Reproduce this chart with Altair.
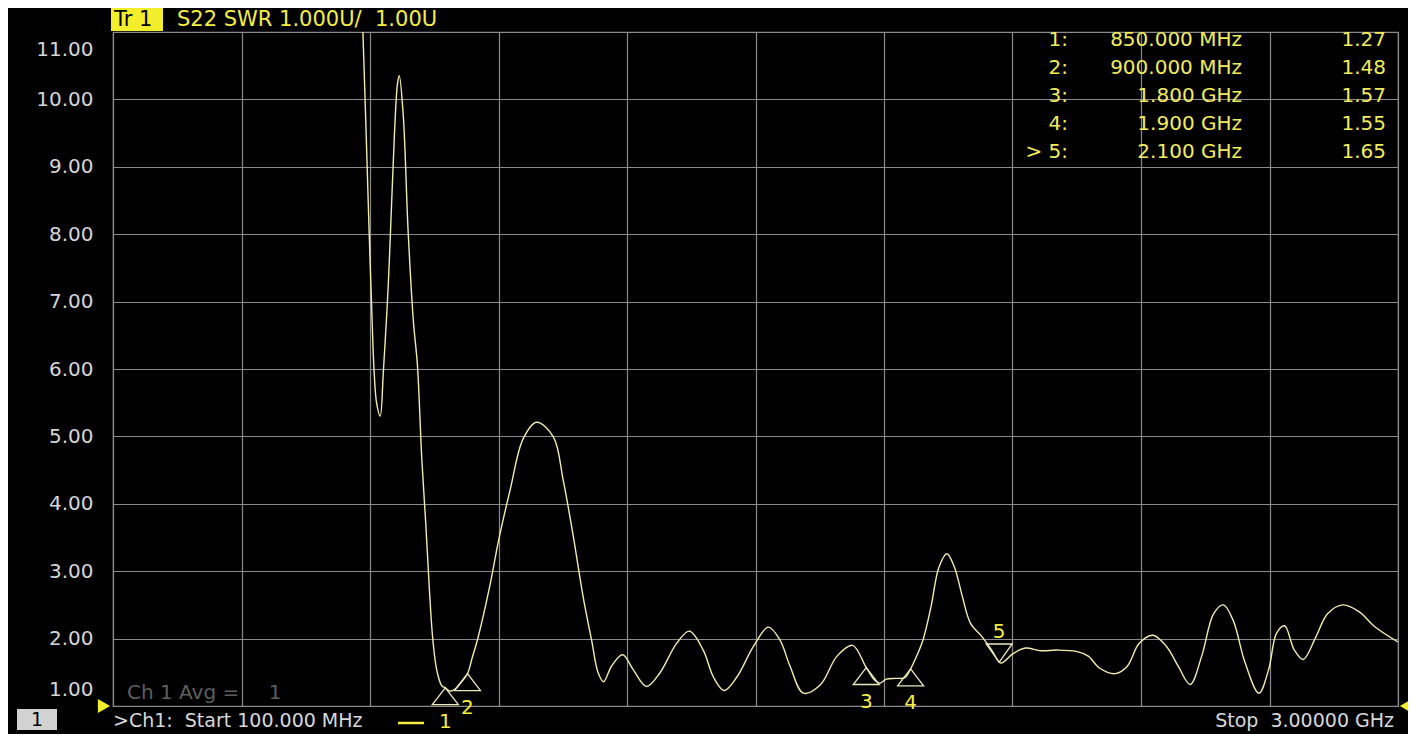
import altair as alt
import pandas as pd

# ---- trace data (frequency in GHz, SWR) ----
freq_ghz = [0.657, 0.664, 0.673, 0.678, 0.684, 0.689, 0.695, 0.703, 0.710, 0.721, 0.729, 0.735,
            0.742, 0.746, 0.755, 0.766, 0.778, 0.787, 0.797, 0.806, 0.814, 0.822, 0.831, 0.842,
            0.850, 0.861, 0.872, 0.883, 0.900, 0.910, 0.924, 0.951, 0.970, 0.996, 1.026, 1.056,
            1.094, 1.116, 1.139, 1.161, 1.180, 1.195, 1.207, 1.225, 1.250, 1.274, 1.304, 1.334,
            1.372, 1.401, 1.432, 1.455, 1.479, 1.508, 1.545, 1.579, 1.605, 1.628, 1.658, 1.696,
            1.734, 1.769, 1.800, 1.818, 1.831, 1.845, 1.867, 1.887, 1.900, 1.911, 1.928, 1.946,
            1.964, 1.982, 1.999, 2.017, 2.035, 2.061, 2.083, 2.100, 2.106, 2.132, 2.159, 2.194,
            2.230, 2.274, 2.301, 2.327, 2.362, 2.389, 2.416, 2.447, 2.478, 2.504, 2.531, 2.557,
            2.584, 2.606, 2.628, 2.655, 2.686, 2.708, 2.726, 2.744, 2.766, 2.786, 2.815, 2.841,
            2.876, 2.912, 2.947, 3.000]
swr = [12.3, 11.0, 9.13, 8.05, 6.87, 6.0, 5.49, 5.30, 5.94, 7.22, 8.5, 9.46,
       10.23, 10.35, 9.77, 8.05, 6.7, 6.06, 4.65, 3.69, 2.73, 1.97, 1.52, 1.30,
       1.27, 1.22, 1.25, 1.33, 1.48, 1.70, 2.02, 2.80, 3.45, 4.20, 4.97, 5.21,
       4.99, 4.35, 3.51, 2.62, 1.98, 1.49, 1.36, 1.59, 1.76, 1.54, 1.29, 1.49,
       1.93, 2.11, 1.83, 1.43, 1.23, 1.43, 1.88, 2.17, 1.98, 1.59, 1.19, 1.31,
       1.74, 1.90, 1.57, 1.39, 1.34, 1.40, 1.41, 1.42, 1.55, 1.70, 1.98, 2.47,
       3.06, 3.26, 3.06, 2.62, 2.23, 2.03, 1.83, 1.65, 1.64, 1.78, 1.86, 1.82,
       1.83, 1.81, 1.74, 1.56, 1.48, 1.59, 1.93, 2.05, 1.88, 1.59, 1.32, 1.74,
       2.37, 2.50, 2.27, 1.64, 1.19, 1.54, 2.08, 2.19, 1.83, 1.69, 2.03, 2.37,
       2.50, 2.40, 2.18, 1.95]

# ---- markers ----
marker_ids = ["1", "2", "3", "4", "5"]
marker_row_labels = ["1:", "2:", "3:", "4:", "> 5:"]
marker_freq = [0.85, 0.90, 1.80, 1.90, 2.10]
marker_swr = [1.27, 1.48, 1.57, 1.55, 1.65]
marker_freq_text = ["850.000 MHz", "900.000 MHz", "1.800 GHz", "1.900 GHz", "2.100 GHz"]
marker_val_text = ["1.27", "1.48", "1.57", "1.55", "1.65"]

# ---- axes ----
x_grid = [0.1, 0.39, 0.68, 0.97, 1.26, 1.55, 1.84, 2.13, 2.42, 2.71, 3.0]
y_ticks = [1, 2, 3, 4, 5, 6, 7, 8, 9, 10, 11]

header_text = "S22 SWR 1.000U/\u00a0\u00a01.00U"
footer_start = ">Ch1:\u00a0\u00a0Start\u00a0100.000 MHz"
footer_stop = "Stop\u00a0\u00a03.00000 GHz"
avg_text = "Ch 1 Avg ="
avg_value = "1"

FONT = "DejaVu Sans"
GRID = "#8a8a8a"
TRACE = "#f1ebb0"
YELLOW = "#f4ee45"
TABLE = "#f2ec5c"

trace_df = pd.DataFrame({"f": freq_ghz, "swr": swr})
mk_df = pd.DataFrame({"f": marker_freq, "swr": marker_swr, "id": marker_ids})
mk_up = mk_df.iloc[:4]
mk_dn = mk_df.iloc[4:]
one = pd.DataFrame({"a": [0]})

xs = alt.Scale(domain=[0.1, 3.0], nice=False, zero=False)
ys = alt.Scale(domain=[1, 11], nice=False, zero=False)

x_enc = alt.X("f:Q", scale=xs,
              axis=alt.Axis(values=x_grid, grid=True, labels=False, ticks=False,
                            domain=False, title=None, gridColor=GRID, gridWidth=1.2,
                            gridOpacity=1))
y_enc = alt.Y("swr:Q", scale=ys,
              axis=alt.Axis(values=y_ticks, format=".2f", grid=True, ticks=False,
                            domain=False, title=None, gridColor=GRID, gridWidth=1.2,
                            gridOpacity=1, labelFlush=True, labelFlushOffset=-7,
                            labelPadding=20, labelFontSize=20, labelFont=FONT,
                            labelColor="#d6d6d6"))

trace = alt.Chart(trace_df).mark_line(
    clip=True, color=TRACE, strokeWidth=1.4, interpolate="catmull-rom"
).encode(x=x_enc, y=y_enc)

tri_up = alt.Chart(mk_up).mark_point(
    shape="M0,0L-1,1.3L1,1.3Z", size=676, filled=False, color="#ebe7c0",
    strokeWidth=1.3, opacity=1
).encode(x="f:Q", y="swr:Q")
tri_dn = alt.Chart(mk_dn).mark_point(
    shape="M0,0L-1,-1.4L1,-1.4Z", size=676, filled=False, color="#ebe7c0",
    strokeWidth=1.3, opacity=1
).encode(x="f:Q", y="swr:Q")
lab_up = alt.Chart(mk_up).mark_text(
    dy=34, color=YELLOW, fontSize=20, font=FONT
).encode(x="f:Q", y="swr:Q", text="id:N")
lab_dn = alt.Chart(mk_dn).mark_text(
    dy=-30, color=YELLOW, fontSize=20, font=FONT
).encode(x="f:Q", y="swr:Q", text="id:N")

layers = [trace, tri_up, tri_dn, lab_up, lab_dn]

# marker table (top right)
row_y = [8, 36, 64, 92, 120]
for i in range(len(marker_ids)):
    for txt, xr in ((marker_row_labels[i], 955), (marker_freq_text[i], 1129), (marker_val_text[i], 1273)):
        layers.append(alt.Chart(one).mark_text(
            text=txt, align="right", baseline="middle", color=TABLE, fontSize=20, font=FONT
        ).encode(x=alt.value(xr), y=alt.value(row_y[i])))

# header
layers.append(alt.Chart(one).mark_rect(color="#f3ee2c").encode(
    x=alt.value(-2), x2=alt.value(50), y=alt.value(-24), y2=alt.value(-1)))
layers.append(alt.Chart(one).mark_text(
    text="Tr 1", align="left", baseline="middle", color="black", fontSize=21, font=FONT
).encode(x=alt.value(1), y=alt.value(-12)))
layers.append(alt.Chart(one).mark_text(
    text=header_text, align="left", baseline="middle", color=YELLOW, fontSize=21, font=FONT
).encode(x=alt.value(64), y=alt.value(-12)))

# averaging note
layers.append(alt.Chart(one).mark_text(
    text=avg_text, align="left", baseline="middle", color="#5e5e5e", fontSize=20, font=FONT
).encode(x=alt.value(14), y=alt.value(661)))
layers.append(alt.Chart(one).mark_text(
    text=avg_value, align="center", baseline="middle", color="#5e5e5e", fontSize=20, font=FONT
).encode(x=alt.value(162), y=alt.value(661)))

# footer
layers.append(alt.Chart(one).mark_rect(color="#d2d2d2").encode(
    x=alt.value(-96), x2=alt.value(-56), y=alt.value(677), y2=alt.value(698)))
layers.append(alt.Chart(one).mark_text(
    text="1", align="center", baseline="middle", color="black", fontSize=19, font=FONT
).encode(x=alt.value(-76), y=alt.value(688)))
layers.append(alt.Chart(one).mark_text(
    text=footer_start, align="left", baseline="middle", color="#d8d8d8", fontSize=19, font=FONT
).encode(x=alt.value(0), y=alt.value(689)))
layers.append(alt.Chart(one).mark_rule(color=YELLOW, strokeWidth=2.5).encode(
    x=alt.value(285), x2=alt.value(311), y=alt.value(691)))
layers.append(alt.Chart(one).mark_text(
    text=footer_stop, align="right", baseline="middle", color="#d8d8d8", fontSize=19, font=FONT
).encode(x=alt.value(1281), y=alt.value(689)))

# reference position arrows
layers.append(alt.Chart(one).mark_point(
    shape="triangle-right", size=200, filled=True, color="#f3ee2c", opacity=1
).encode(x=alt.value(-9), y=alt.Y(datum=1)))
layers.append(alt.Chart(one).mark_point(
    shape="triangle-left", size=200, filled=True, color="#f3ee2c", opacity=1
).encode(x=alt.value(1293), y=alt.Y(datum=1)))

chart = alt.layer(*layers).properties(
    width=1285, height=674,
    padding={"left": 105, "top": 24, "right": 10, "bottom": 28},
    autosize=alt.AutoSizeParams(type="none"),
    background="black",
).configure_view(stroke=GRID, strokeWidth=1.2)

chart.save("out.html", embed_options={"renderer": "svg", "actions": False})
